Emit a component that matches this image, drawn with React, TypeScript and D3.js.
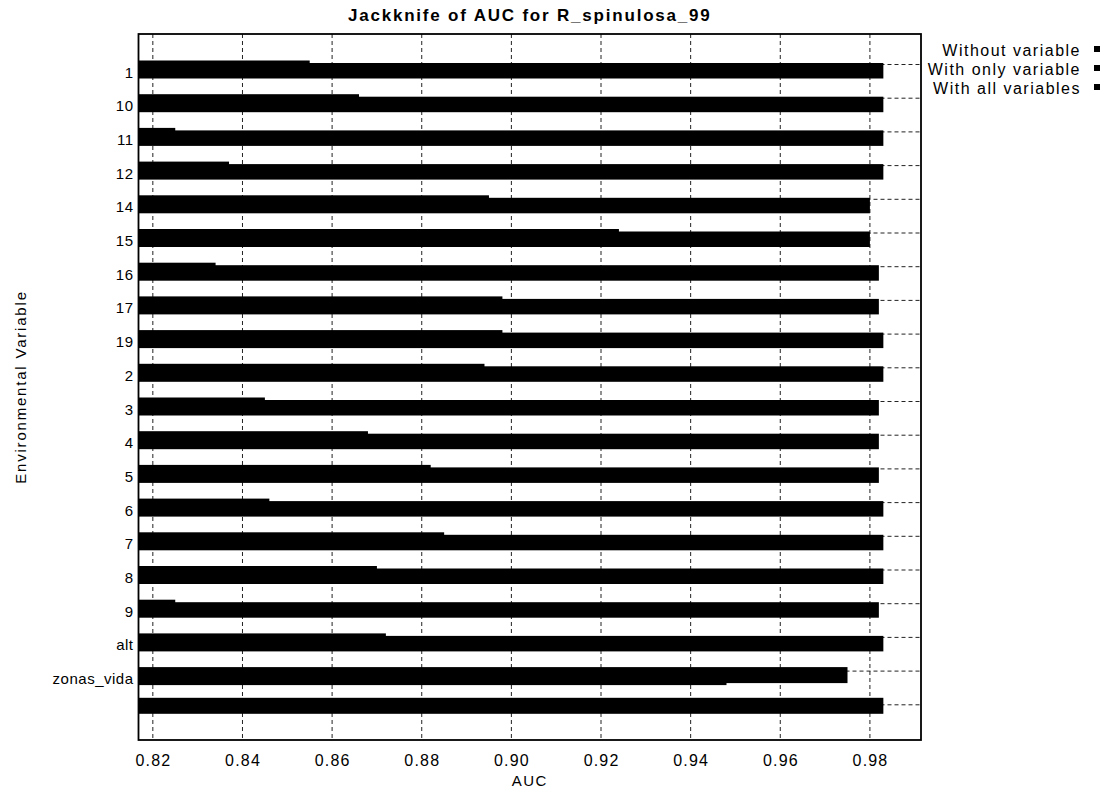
import { useEffect, useRef } from 'react';
import * as d3 from 'd3';

const variables = ['1', '10', '11', '12', '14', '15', '16', '17', '19', '2', '3', '4', '5', '6', '7', '8', '9', 'alt', 'zonas_vida'];
const withoutVariable = [0.983, 0.983, 0.983, 0.983, 0.980, 0.980, 0.982, 0.982, 0.983, 0.983, 0.982, 0.982, 0.982, 0.983, 0.983, 0.983, 0.982, 0.983, 0.948];
const withOnlyVariable = [0.855, 0.866, 0.825, 0.837, 0.895, 0.924, 0.834, 0.898, 0.898, 0.894, 0.845, 0.868, 0.882, 0.846, 0.885, 0.870, 0.825, 0.872, 0.975];
const withAllVariables = 0.983;
const xTicks = [0.82, 0.84, 0.86, 0.88, 0.90, 0.92, 0.94, 0.96, 0.98];
const legendLabels = ['Without variable', 'With only variable', 'With all variables'];

const FONT = '"Liberation Sans", Arial, Helvetica, sans-serif';

export default function App() {
  const ref = useRef<SVGSVGElement>(null);

  useEffect(() => {
    document.body.style.margin = '0';
    if (!ref.current) return;
    const svg = d3.select(ref.current);
    svg.selectAll('*').remove();

    const left = 138.5, right = 921, top = 34, bottom = 740;
    const rows = [...variables, '__all'];

    const x = d3.scaleLinear().domain([0.8168, 0.9914]).range([left, right]);
    const y = d3.scalePoint<string>().domain(rows).range([top + 30.5, bottom - 35.2]);

    svg.append('rect')
      .attr('width', 1105).attr('height', 790).attr('fill', '#fff');

    const grid = svg.append('g')
      .attr('stroke', '#222')
      .attr('stroke-width', 1)
      .attr('stroke-dasharray', '4,3');

    // vertical grid at each tick
    grid.selectAll('line.v')
      .data(xTicks)
      .join('line')
      .attr('class', 'v')
      .attr('x1', d => x(d)).attr('x2', d => x(d))
      .attr('y1', top).attr('y2', bottom);

    // horizontal grid through each row
    grid.selectAll('line.h')
      .data(rows)
      .join('line')
      .attr('class', 'h')
      .attr('x1', left).attr('x2', right)
      .attr('y1', d => y(d)!).attr('y2', d => y(d)!);

    const bars = svg.append('g').attr('fill', '#000');

    // without variable (slightly lower)
    bars.selectAll('rect.without')
      .data(variables)
      .join('rect')
      .attr('class', 'without')
      .attr('x', left)
      .attr('y', d => y(d)! - 1.5)
      .attr('width', (d, i) => x(withoutVariable[i]) - left)
      .attr('height', 15.5);

    // with only variable (slightly higher)
    bars.selectAll('rect.only')
      .data(variables)
      .join('rect')
      .attr('class', 'only')
      .attr('x', left)
      .attr('y', d => y(d)! - 4)
      .attr('width', (d, i) => x(withOnlyVariable[i]) - left)
      .attr('height', 16);

    // with all variables
    bars.append('rect')
      .attr('x', left)
      .attr('y', y('__all')! - 7)
      .attr('width', x(withAllVariables) - left)
      .attr('height', 16);

    // frame
    svg.append('rect')
      .attr('x', left).attr('y', top)
      .attr('width', right - left).attr('height', bottom - top)
      .attr('fill', 'none')
      .attr('stroke', '#000')
      .attr('stroke-width', 1.8);

    // y labels
    svg.append('g')
      .selectAll('text')
      .data(variables)
      .join('text')
      .attr('x', left - 5)
      .attr('y', d => y(d)! + 7.5)
      .attr('text-anchor', 'end')
      .attr('dominant-baseline', 'central')
      .attr('font-family', FONT)
      .attr('font-size', 15)
      .attr('letter-spacing', 0.5)
      .attr('fill', '#000')
      .text(d => d);

    // x tick labels
    svg.append('g')
      .selectAll('text')
      .data(xTicks)
      .join('text')
      .attr('x', d => x(d) + 0.6)
      .attr('y', 760)
      .attr('text-anchor', 'middle')
      .attr('dominant-baseline', 'central')
      .attr('font-family', FONT)
      .attr('font-size', 16)
      .attr('letter-spacing', 1.2)
      .attr('fill', '#000')
      .text(d => d3.format('.2f')(d));

    svg.append('text')
      .attr('x', (left + right) / 2)
      .attr('y', 780)
      .attr('text-anchor', 'middle')
      .attr('dominant-baseline', 'central')
      .attr('font-family', FONT)
      .attr('font-size', 15)
      .attr('letter-spacing', 1.5)
      .text('AUC');

    svg.append('text')
      .attr('transform', `translate(20,${(top + bottom) / 2}) rotate(-90)`)
      .attr('text-anchor', 'middle')
      .attr('dominant-baseline', 'central')
      .attr('font-family', FONT)
      .attr('font-size', 15)
      .attr('letter-spacing', 1.8)
      .text('Environmental Variable');

    svg.append('text')
      .attr('x', (left + right) / 2)
      .attr('y', 15)
      .attr('text-anchor', 'middle')
      .attr('dominant-baseline', 'central')
      .attr('font-family', FONT)
      .attr('font-size', 17)
      .attr('font-weight', 'bold')
      .attr('letter-spacing', 1.8)
      .text('Jackknife of AUC for R_spinulosa_99');

    // legend
    const legend = svg.append('g')
      .selectAll('g')
      .data(legendLabels)
      .join('g')
      .attr('transform', (d, i) => `translate(0,${50 + i * 19})`);

    legend.append('text')
      .attr('x', 1081)
      .attr('text-anchor', 'end')
      .attr('dominant-baseline', 'central')
      .attr('font-family', FONT)
      .attr('font-size', 16)
      .attr('letter-spacing', 1.5)
      .text(d => d);

    legend.append('rect')
      .attr('x', 1094).attr('y', -4)
      .attr('width', 6).attr('height', 6)
      .attr('fill', '#000');
  }, []);

  return <svg ref={ref} width={1105} height={790} style={{ display: 'block' }} />;
}
